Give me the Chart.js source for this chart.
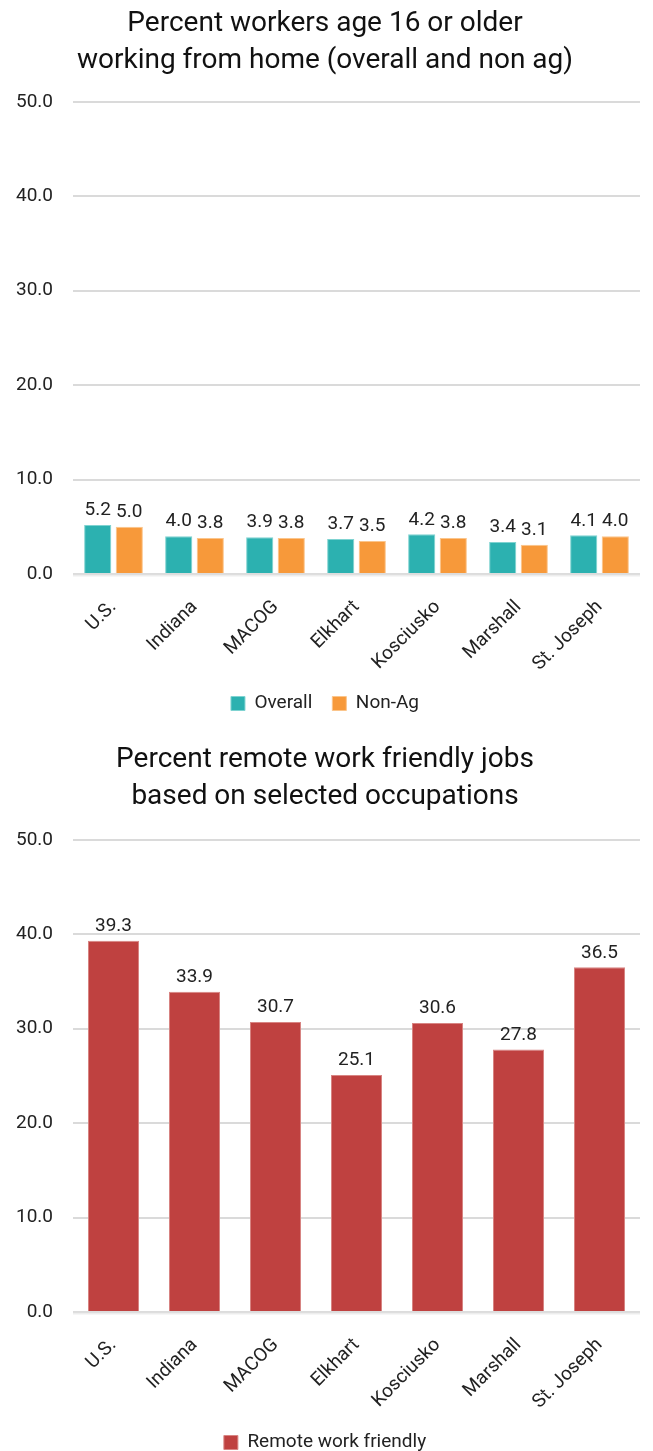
<!DOCTYPE html>
<html>
<head>
<meta charset="utf-8">
<script src="https://cdn.jsdelivr.net/npm/chart.js@4"></script>
<style>
  html, body { margin: 0; padding: 0; background: #fff; overflow: hidden; }
  canvas { display: block; }
</style>
</head>
<body>
<canvas id="wfh" width="653" height="723"></canvas>
<canvas id="remote" width="653" height="739"></canvas>
<script>
const areas = ['U.S.', 'Indiana', 'MACOG', 'Elkhart', 'Kosciusko', 'Marshall', 'St. Joseph'];
const overall = [5.2, 4.0, 3.9, 3.7, 4.2, 3.4, 4.1];
const nonAg = [5.0, 3.8, 3.8, 3.5, 3.8, 3.1, 4.0];
const remoteFriendly = [39.3, 33.9, 30.7, 25.1, 30.6, 27.8, 36.5];

const FONT = 'Roboto, "Noto Sans", sans-serif';
Chart.defaults.font.family = FONT;
Chart.defaults.color = '#222';

// Value labels above each bar, plus a translucent zero line drawn over the bar feet
const valueLabels = {
  id: 'valueLabels',
  afterDatasetsDraw(chart) {
    const ctx = chart.ctx;
    const y0 = chart.scales.y.getPixelForValue(0);
    ctx.save();
    ctx.strokeStyle = 'rgba(225,225,225,0.6)';
    ctx.lineWidth = 3;
    ctx.beginPath();
    ctx.moveTo(chart.chartArea.left, y0 + 1);
    ctx.lineTo(chart.chartArea.right, y0 + 1);
    ctx.stroke();

    ctx.font = '19px ' + FONT;
    ctx.fillStyle = '#222';
    ctx.textAlign = 'center';
    ctx.textBaseline = 'bottom';
    chart.data.datasets.forEach((ds, i) => {
      chart.getDatasetMeta(i).data.forEach((bar, j) => {
        ctx.fillText(ds.data[j].toFixed(1), bar.x, bar.y - 5);
      });
    });
    ctx.restore();
  }
};

function baseOptions(titleLines, titlePad, xHeight, barPct, catPct) {
  return {
    responsive: false,
    animation: false,
    layout: { padding: { left: 10, right: 13, top: 0, bottom: 0 } },
    datasets: { bar: { barPercentage: barPct, categoryPercentage: catPct } },
    scales: {
      x: {
        afterFit(scale) { scale.height = xHeight; },
        grid: { display: false, drawTicks: false },
        border: { display: false },
        ticks: { font: { size: 19 }, maxRotation: 45, minRotation: 45, padding: 22, color: '#222' }
      },
      y: {
        min: 0, max: 50,
        afterFit(scale) { scale.width = 63; },
        grid: { color: '#dadada', lineWidth: 2, drawTicks: false },
        border: { display: false },
        ticks: { stepSize: 10, font: { size: 19 }, padding: 20, color: '#222',
                 callback: v => Number(v).toFixed(1) }
      }
    },
    plugins: {
      title: {
        display: true, text: titleLines, color: '#111',
        font: { size: 28, weight: 'normal', lineHeight: 1.3 },
        padding: titlePad
      },
      legend: {
        position: 'bottom',
        labels: { font: { size: 19 }, boxWidth: 14, boxHeight: 14, padding: 20, color: '#222' }
      },
      tooltip: { enabled: false }
    }
  };
}

new Chart(document.getElementById('wfh'), {
  type: 'bar',
  data: {
    labels: areas,
    datasets: [
      { label: 'Overall', data: overall, backgroundColor: '#2cb1b0', borderColor: '#7fd3d1', borderWidth: 1 },
      { label: 'Non-Ag', data: nonAg, backgroundColor: '#f7993a', borderColor: '#fbc58b', borderWidth: 1 }
    ]
  },
  options: baseOptions(['Percent workers age 16 or older', 'working from home (overall and non ag)'],
                       { top: 6, bottom: 23 }, 100, 0.86, 0.78),
  plugins: [valueLabels]
});

new Chart(document.getElementById('remote'), {
  type: 'bar',
  data: {
    labels: areas,
    datasets: [
      { label: 'Remote work friendly', data: remoteFriendly, backgroundColor: '#bf4140', borderColor: '#d88583', borderWidth: 1 }
    ]
  },
  options: baseOptions(['Percent remote work friendly jobs', 'based on selected occupations'],
                       { top: 19, bottom: 25 }, 101, 0.63, 1.0),
  plugins: [valueLabels]
});
</script>
</body>
</html>
